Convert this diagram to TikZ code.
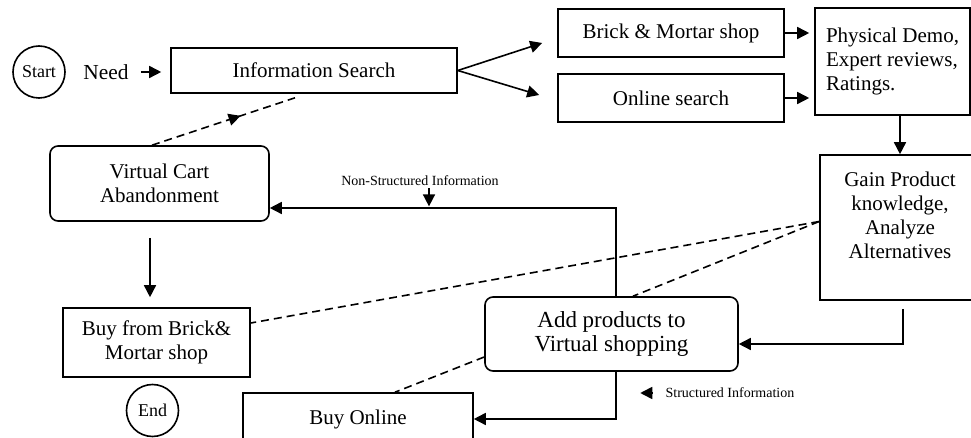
\documentclass[tikz,border=0pt]{standalone}
\usepackage{fontspec}
\setmainfont{Liberation Serif}
\usetikzlibrary{arrows.meta,decorations.markings}

\tikzset{
  box/.style={draw,line width=.8pt,inner sep=2pt,align=center,font=\fontsize{10.5}{12}\selectfont},
  rbox/.style={box,rounded corners=4pt},
  term/.style={draw,circle,line width=.8pt,inner sep=0pt,minimum size=26pt,font=\fontsize{9}{10}\selectfont},
  note/.style={inner sep=1pt,font=\fontsize{7}{8}\selectfont},
  flow/.style={line width=.8pt,->},
  dflow/.style={line width=.8pt,dash pattern=on 4pt off 2.5pt}
}

\begin{document}
\begin{tikzpicture}[x=0.5pt,y=-0.5pt,>={Triangle[length=6pt,width=6pt]}]
\useasboundingbox (0,0) rectangle (971,438);

% top row
\node[term] (start) at (39,72) {Start};
\node[inner sep=0pt,font=\fontsize{10.7}{12}\selectfont] (need) at (106,72) {Need};
\node[box,minimum width=143pt,minimum height=22.5pt] (info) at (314,70.5) {Information Search};
\node[box,minimum width=113pt,minimum height=24pt] (brick) at (671,33) {Brick \& Mortar shop};
\node[box,minimum width=113pt,minimum height=24pt] (online) at (671,98) {Online search};
\node[box,align=left,minimum width=77.5pt,minimum height=53.5pt] (demo) at (892.5,61.5) {Physical Demo,\\Expert reviews,\\Ratings.};

% middle and bottom
\node[box,minimum width=80pt,minimum height=72.5pt] (gain) at (900,227.5) {Gain Product\\knowledge,\\Analyze\\Alternatives\\ \mbox{}};
\node[rbox,minimum width=109.5pt,minimum height=37.5pt] (cart) at (159.5,183.5) {Virtual Cart\\Abandonment};
\node[rbox,minimum width=126.5pt,minimum height=37pt,font=\fontsize{11.5}{12}\selectfont] (add) at (611.5,334) {Add products to\\Virtual shopping};
\node[box,minimum width=93.5pt,minimum height=34.5pt] (shop) at (156.5,342.5) {Buy from Brick\&\\Mortar shop};
\node[term] (end) at (152.5,410.5) {End};
\node[box,minimum width=115pt,minimum height=26pt] (buy) at (358,419) {Buy Online};
\node[note] (nonstr) at (420,181) {Non-Structured Information};
\node[note] (struct) at (730,393) {Structured Information};

\draw[flow,shorten <=6pt,shorten >=4.5pt] (need.east) -- (need.east -| info.west);
\draw[flow] (info.east) -- ([xshift=-7.5pt,yshift=-5pt]brick.west);
\draw[flow] (info.east) -- ([xshift=-9pt,yshift=1.5pt]online.west);
\draw[flow,shorten >=2.5pt] (brick.east) -- (brick.east -| demo.west);
\draw[flow,shorten >=2.5pt] (online.east) -- (online.east -| demo.west);
\draw[flow] (demo.south -| gain.north) -- (gain.north);
\draw[flow,shorten <=4pt] ([xshift=1.5pt]gain.south) |- ([yshift=-5pt]add.east);
\draw[flow] ([xshift=2.25pt]add.north) |- ([yshift=-12.25pt]cart.east);
\draw[flow] ([xshift=2.25pt]add.south) |- (buy.east);
\draw[flow] ([xshift=4.5pt]nonstr.south) -- ++(0,18);
\draw[flow] ([xshift=-5.5pt]struct.west) -- ++(-12,0);
\draw[flow,shorten <=8pt,shorten >=5pt] ([xshift=-4.75pt]cart.south) -- ([xshift=-3.25pt]shop.north);

% dashed links
\draw[dflow,postaction={decorate},decoration={markings,mark=at position .62 with {\arrow{>}}}]
  ([xshift=-3.75pt]cart.north) -- ([xshift=-9.5pt,yshift=-2pt]info.south);
\draw[dflow] ([yshift=3pt]gain.west) -- ([yshift=9.75pt]shop.east);
\draw[dflow] ([yshift=3pt]gain.west) -- ([xshift=10.75pt]add.north);
\draw[dflow] ([yshift=-11.5pt]add.west) -- ([xshift=18.5pt]buy.north);
\end{tikzpicture}
\end{document}
